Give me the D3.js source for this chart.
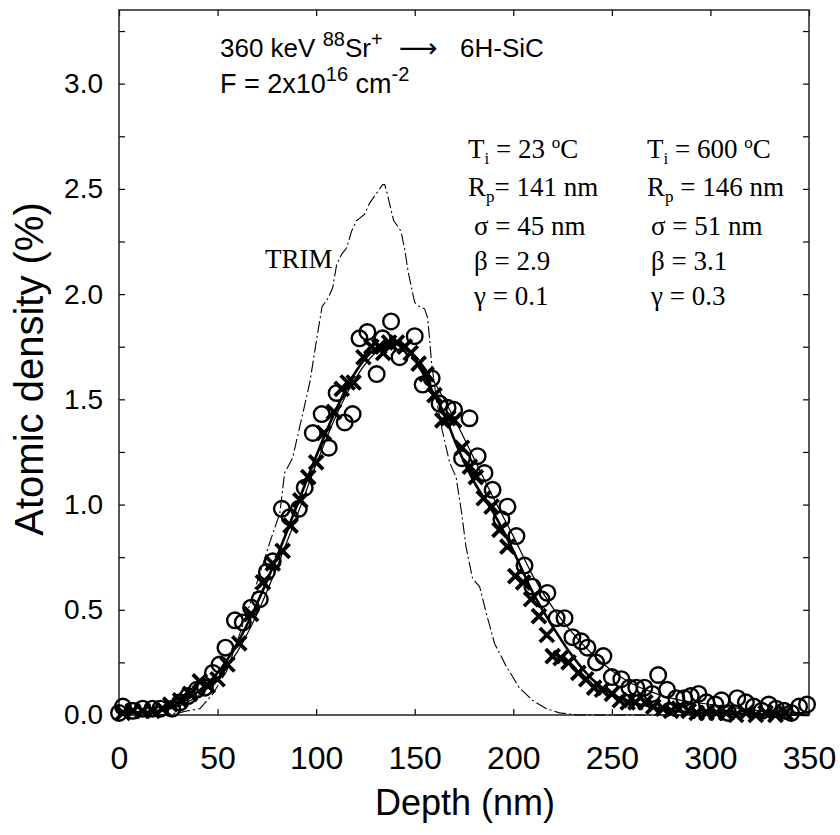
<!DOCTYPE html>
<html>
<head>
<meta charset="utf-8">
<script src="https://cdn.jsdelivr.net/npm/d3@7"></script>
<style>
  body { margin: 0; background: #fff; }
  svg text { fill: #000; }
</style>
</head>
<body>
<svg id="chart" width="840" height="835"></svg>
<script>
// TRIM simulation (dash-dot)
var trimDepth   = [20, 30, 35, 41, 47.6, 54.7, 58.8, 64.8, 71.4, 76.5, 81.6, 84, 88, 91.7, 96.8, 100, 103, 106, 108.4, 110.4, 113, 115.5, 118, 120.6, 122, 124.6, 127, 130.7, 133.7, 134.8, 136, 138, 139.3, 141.5, 143, 145, 146.6, 148.4, 150, 152.5, 155, 156.5, 157.5, 158.6, 161, 164, 167.7, 171, 173.8, 176, 179.3, 182.9, 186.4, 190.5, 196.5, 203, 209.7, 216.8, 223.4, 233, 260, 300]
var trimDensity = [0, 0.01, 0.02, 0.03, 0.10, 0.21, 0.32, 0.48, 0.67, 0.82, 0.96, 1.15, 1.22, 1.37, 1.58, 1.77, 1.94, 1.98, 2.03, 2.14, 2.19, 2.22, 2.30, 2.35, 2.36, 2.38, 2.43, 2.48, 2.52, 2.52, 2.48, 2.40, 2.35, 2.32, 2.30, 2.21, 2.11, 2.03, 1.96, 1.94, 1.93, 1.89, 1.79, 1.67, 1.50, 1.35, 1.20, 1.13, 0.96, 0.80, 0.65, 0.61, 0.48, 0.34, 0.23, 0.13, 0.07, 0.03, 0.01, 0, 0, 0]

// circles (measured)
var circleDepth   = [0, 2, 7, 12, 17, 21, 27, 31, 35, 39.5, 43.6, 47.6, 51, 54, 58.8, 62.8, 67, 71.4, 75, 78, 82.6, 86.6, 91.2, 94.2, 98.3, 102.8, 106.4, 110.4, 114.5, 118.5, 122, 126, 130.7, 133.7, 138, 142.3, 150, 154, 158.6, 162.6, 166.7, 170, 174, 177.8, 181.9, 185.4, 189.5, 194, 197, 201.6, 205.7, 209.7, 214.3, 217.3, 222, 226, 230, 234.5, 237.6, 242, 245.7, 250, 254.8, 258.9, 262.4, 266.5, 270.5, 273.5, 278, 282.7, 286.7, 290, 294, 298, 302.5, 305.6, 309, 313.6, 318, 322, 326, 329.6, 333.3, 337.4, 341, 345, 349]
var circleDensity = [0.01, 0.04, 0.02, 0.03, 0.03, 0.03, 0.03, 0.06, 0.09, 0.12, 0.13, 0.20, 0.24, 0.32, 0.45, 0.44, 0.51, 0.55, 0.68, 0.73, 0.98, 0.94, 0.98, 1.08, 1.34, 1.43, 1.27, 1.53, 1.39, 1.43, 1.79, 1.82, 1.62, 1.79, 1.87, 1.70, 1.80, 1.57, 1.60, 1.48, 1.46, 1.45, 1.22, 1.41, 1.23, 1.15, 1.07, 0.93, 0.99, 0.85, 0.71, 0.61, 0.55, 0.58, 0.46, 0.46, 0.37, 0.35, 0.32, 0.25, 0.28, 0.18, 0.17, 0.13, 0.13, 0.13, 0.10, 0.19, 0.12, 0.08, 0.08, 0.09, 0.10, 0.06, 0.05, 0.07, 0.01, 0.08, 0.06, 0.04, 0.02, 0.05, 0.03, 0.02, 0.01, 0.04, 0.05]

// crosses (measured)
var crossDepth   = [2, 7, 12, 17, 22, 26, 31, 36, 41, 45, 50, 55, 61, 67, 73, 78, 83, 87, 92, 96, 100, 104, 109, 113, 116, 119, 124, 128, 132, 134, 137, 141, 145, 148, 152, 156, 160, 164, 167, 170, 174, 178, 181, 185, 189, 193, 197, 201, 205, 209, 213, 217, 220, 224, 228, 233, 237, 241, 245, 250, 254, 258, 262, 267, 271, 276, 280, 284, 289, 293, 298, 303, 308, 313, 318, 323, 328, 333, 338]
var crossDensity = [0.01, 0.02, 0.02, 0.02, 0.03, 0.05, 0.07, 0.10, 0.16, 0.14, 0.17, 0.24, 0.34, 0.48, 0.63, 0.72, 0.78, 0.90, 1.02, 1.13, 1.20, 1.34, 1.44, 1.55, 1.58, 1.58, 1.70, 1.75, 1.75, 1.72, 1.77, 1.77, 1.75, 1.72, 1.67, 1.62, 1.52, 1.40, 1.41, 1.40, 1.27, 1.18, 1.13, 1.03, 0.99, 0.88, 0.80, 0.66, 0.63, 0.55, 0.47, 0.38, 0.28, 0.27, 0.25, 0.20, 0.17, 0.13, 0.12, 0.10, 0.07, 0.06, 0.06, 0.06, 0.04, 0.03, 0.02, 0.03, 0.02, 0.01, 0.01, 0.01, 0.01, 0.0, 0.01, 0.0, 0.01, 0.0, 0.01]

// fitted profiles
var thinFitDepth   = [0, 20, 30, 40, 50, 60, 70, 80, 90, 100, 110, 120, 130, 140, 150, 160, 170, 180, 190, 200, 210, 220, 230, 240, 250, 260, 270, 280, 300, 325, 350]
var thinFitDensity = [0.005, 0.02, 0.04, 0.09, 0.17, 0.30, 0.48, 0.70, 0.94, 1.19, 1.42, 1.60, 1.72, 1.76, 1.71, 1.58, 1.41, 1.22, 1.03, 0.85, 0.66, 0.51, 0.39, 0.29, 0.21, 0.15, 0.11, 0.08, 0.05, 0.02, 0.01]

var thickFitDepth   = [0, 20, 30, 40, 50, 60, 70, 80, 90, 100, 110, 120, 130, 137, 145, 150, 160, 165, 170, 180, 190, 200, 210, 220, 230, 240, 250, 260, 270, 280, 300, 320, 350]
var thickFitDensity = [0.01, 0.02, 0.05, 0.11, 0.20, 0.34, 0.53, 0.75, 0.99, 1.23, 1.45, 1.63, 1.74, 1.77, 1.75, 1.69, 1.52, 1.43, 1.31, 1.11, 0.96, 0.78, 0.58, 0.42, 0.28, 0.17, 0.10, 0.06, 0.04, 0.02, 0.01, 0.005, 0.0]

var xTicks = [0, 50, 100, 150, 200, 250, 300, 350]
var yTicks = [0, 0.5, 1.0, 1.5, 2.0, 2.5, 3.0]
var yTickLabels = ["0.0", "0.5", "1.0", "1.5", "2.0", "2.5", "3.0"]
var yMinorTicks = [0.25, 0.75, 1.25, 1.75, 2.25, 2.75, 3.25]

var sans = "'Liberation Sans', Arial, sans-serif"
var serif = "'Liberation Serif', 'Times New Roman', serif"

var svg = d3.select("#chart")

var x = d3.scaleLinear().domain([0, 350]).range([119, 809])
var y = d3.scaleLinear().domain([0, 3.35]).range([715, 10])

function zip(a, b) { return a.map(function(d, i){ return [d, b[i]] }) }

// axes, ticks pointing inward
var allY = yTicks.concat(yMinorTicks)
svg.append("g")
    .attr("transform", "translate(0,715)")
    .call(d3.axisBottom(x).tickValues(xTicks).tickSize(-6).tickPadding(31).tickFormat(d3.format("d")))
    .call(function(g){ g.select(".domain").remove() })
    .selectAll("text").attr("font-family", sans).attr("font-size", 32)

svg.append("g")
    .attr("transform", "translate(0,10)")
    .call(d3.axisTop(x).tickValues(xTicks).tickSize(-6).tickFormat(""))
    .call(function(g){ g.select(".domain").remove() })

svg.append("g")
    .attr("transform", "translate(119,0)")
    .call(d3.axisLeft(y).tickValues(allY).tickSize(-6).tickPadding(16)
        .tickFormat(function(d){ var i = yTicks.indexOf(d); return i >= 0 ? yTickLabels[i] : "" }))
    .call(function(g){ g.select(".domain").remove() })
    .selectAll("text").attr("font-family", sans).attr("font-size", 28)

svg.append("g")
    .attr("transform", "translate(809,0)")
    .call(d3.axisRight(y).tickValues(allY).tickSize(-6).tickFormat(""))
    .call(function(g){ g.select(".domain").remove() })

svg.selectAll(".tick line").attr("stroke", "#000").attr("stroke-width", 1.2)

svg.append("rect")
    .attr("x", 119).attr("y", 10).attr("width", 690).attr("height", 705)
    .attr("fill", "none").attr("stroke", "#222").attr("stroke-width", 1.5)

// axis titles
svg.append("text")
    .attr("x", 465).attr("y", 815)
    .attr("text-anchor", "middle")
    .attr("font-family", sans).attr("font-size", 36)
    .text("Depth (nm)")

svg.append("text")
    .attr("transform", "translate(43,369) rotate(-90)")
    .attr("text-anchor", "middle")
    .attr("font-family", sans).attr("font-size", 40)
    .text("Atomic density (%)")

// curves
var line = d3.line().x(function(d){ return x(d[0]) }).y(function(d){ return y(d[1]) })
var smooth = d3.line().curve(d3.curveMonotoneX).x(function(d){ return x(d[0]) }).y(function(d){ return y(d[1]) })

svg.append("path")
    .datum(zip(trimDepth, trimDensity))
    .attr("d", line)
    .attr("fill", "none").attr("stroke", "#000").attr("stroke-width", 1.1)
    .attr("stroke-dasharray", "12,3,2,3")

svg.append("path")
    .datum(zip(thinFitDepth, thinFitDensity))
    .attr("d", smooth)
    .attr("fill", "none").attr("stroke", "#000").attr("stroke-width", 1.2)

svg.append("path")
    .datum(zip(thickFitDepth, thickFitDensity))
    .attr("d", smooth)
    .attr("fill", "none").attr("stroke", "#000").attr("stroke-width", 2.6)

// markers
var s = 7
svg.append("g").selectAll("path")
    .data(zip(crossDepth, crossDensity))
    .enter().append("path")
    .attr("transform", function(d){ return "translate(" + x(d[0]) + "," + y(d[1]) + ")" })
    .attr("d", "M" + (-s) + "," + (-s) + "L" + s + "," + s + "M" + (-s) + "," + s + "L" + s + "," + (-s))
    .attr("stroke", "#000").attr("stroke-width", 3.8).attr("fill", "none")

svg.append("g").selectAll("circle")
    .data(zip(circleDepth, circleDensity))
    .enter().append("circle")
    .attr("cx", function(d){ return x(d[0]) })
    .attr("cy", function(d){ return y(d[1]) })
    .attr("r", 7.8)
    .attr("fill", "none").attr("stroke", "#000").attr("stroke-width", 2.4)

// annotations
var l1 = svg.append("text").attr("x", 220).attr("y", 57).attr("font-family", sans).attr("font-size", 26)
l1.append("tspan").text("360 keV ")
l1.append("tspan").attr("font-size", 20).attr("dy", -11).text("88")
l1.append("tspan").attr("dy", 11).text("Sr")
l1.append("tspan").attr("font-size", 20).attr("dy", -11).text("+")

svg.append("text").attr("x", 399).attr("y", 57)
    .attr("font-family", "'DejaVu Sans', sans-serif").attr("font-size", 27)
    .text("\u27F6")

svg.append("text").attr("x", 460).attr("y", 57).attr("font-family", sans).attr("font-size", 26).text("6H-SiC")

var l2 = svg.append("text").attr("x", 220).attr("y", 93).attr("font-family", sans).attr("font-size", 27)
l2.append("tspan").text("F = 2x10")
l2.append("tspan").attr("font-size", 20).attr("dy", -12).text("16")
l2.append("tspan").attr("dy", 12).text(" cm")
l2.append("tspan").attr("font-size", 20).attr("dy", -12).text("-2")

function paramText(px, py, main, sub, rest, sup, tail)
{
    var t = svg.append("text").attr("x", px).attr("y", py).attr("font-family", serif).attr("font-size", 27)
    t.append("tspan").text(main)
    if(sub)
    {
        t.append("tspan").attr("font-size", 17).attr("dy", 6).text(sub)
        t.append("tspan").attr("dy", -6).text(rest)
    }
    if(sup)
    {
        t.append("tspan").attr("font-size", 17).attr("dy", -10).text(sup)
        t.append("tspan").attr("dy", 10).text(tail)
    }
    return t
}

var rows = [158, 196, 235, 270, 305]
paramText(468, rows[0], "T", "i", " = 23 ", "o", "C")
paramText(468, rows[1], "R", "p", "= 141 nm")
paramText(474, rows[2], "\u03C3 = 45 nm")
paramText(474, rows[3], "\u03B2 = 2.9")
paramText(474, rows[4], "\u03B3 = 0.1")

paramText(647, rows[0], "T", "i", " = 600 ", "o", "C")
paramText(647, rows[1], "R", "p", " = 146 nm")
paramText(651, rows[2], "\u03C3 = 51 nm")
paramText(651, rows[3], "\u03B2 = 3.1")
paramText(651, rows[4], "\u03B3 = 0.3")

svg.append("text").attr("x", 265).attr("y", 268).attr("font-family", serif).attr("font-size", 27).text("TRIM")
</script>
</body>
</html>
